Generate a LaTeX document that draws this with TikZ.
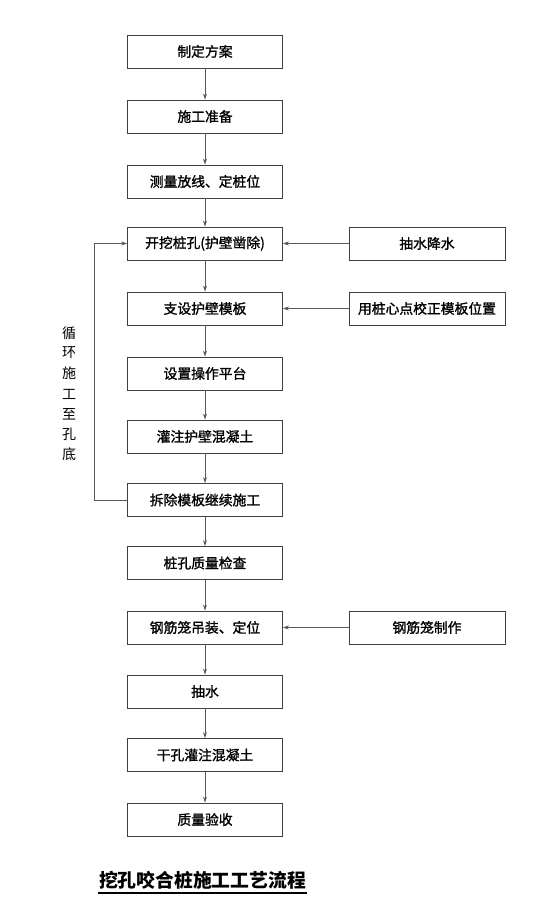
\documentclass[tikz,border=0pt]{standalone}
\usepackage{fontspec}
\setmainfont{Noto Sans CJK SC}
\newfontfamily\boxfont[FakeBold=1.3]{Noto Sans CJK SC}
\usetikzlibrary{arrows.meta}
\begin{document}
\begin{tikzpicture}[x=1pt,y=-1pt,
  box/.style={draw=black!75,line width=0.9pt,minimum width=155pt,minimum height=33pt,inner sep=0pt,font=\boxfont\fontsize{13.8}{14}\selectfont},
  conn/.style={draw=black!65,line width=0.9pt,-{Stealth[length=6pt,width=4pt]}},
  vt/.style={font=\fontsize{14}{14}\selectfont,inner sep=0pt}]
\useasboundingbox (0,0) rectangle (554,909);
\node[box] (a1) at (205,51.5) {制定方案};
\node[box] (a2) at (205,116.5) {施工准备};
\node[box] (a3) at (205,181.5) {测量放线、定桩位};
\node[box] (a4) at (205,243.5) {开挖桩孔(护壁凿除)};
\node[box] (a5) at (205,308.5) {支设护壁模板};
\node[box] (a6) at (205,373.5) {设置操作平台};
\node[box] (a7) at (205,436.5) {灌注护壁混凝土};
\node[box] (a8) at (205,500) {拆除模板继续施工};
\node[box] (a9) at (205,563) {桩孔质量检查};
\node[box] (a10) at (205,627.5) {钢筋笼吊装、定位};
\node[box] (a11) at (205,691.5) {抽水};
\node[box] (a12) at (205,755) {干孔灌注混凝土};
\node[box] (a13) at (205,819.5) {质量验收};
\node[box,minimum width=156pt] (b1) at (427,243.5) {抽水降水};
\node[box,minimum width=156pt] (b2) at (427,308.5) {用桩心点校正模板位置};
\node[box,minimum width=156pt] (b3) at (427,627.5) {钢筋笼制作};
\foreach \i/\j in {a1/a2,a2/a3,a3/a4,a4/a5,a5/a6,a6/a7,a7/a8,a8/a9,a9/a10,a10/a11,a11/a12,a12/a13}
  \draw[conn] (\i) -- (\j);
\draw[conn] (b1) -- (a4);
\draw[conn] (b2) -- (a5);
\draw[conn] (b3) -- (a10);
\coordinate (lp) at (94,0);
\draw[conn] (a8.west) -- (a8.west -| lp) -- (a4.west -| lp) -- (a4.west);
\node[vt] (v1) at (69,333) {循};
\node[vt] (v2) at (69,353) {环};
\node[vt] (v3) at (69,373) {施};
\node[vt] (v4) at (69,394) {工};
\node[vt] (v5) at (69,414) {至};
\node[vt] (v6) at (69,434) {孔};
\node[vt] (v7) at (69,454) {底};
\node[inner sep=0pt,font=\fontsize{18.8}{19}\selectfont\bfseries] (t) at (202.5,880) {挖孔咬合桩施工工艺流程};
\draw[line width=2pt] (98,893) -- (307,893);
\end{tikzpicture}
\end{document}
